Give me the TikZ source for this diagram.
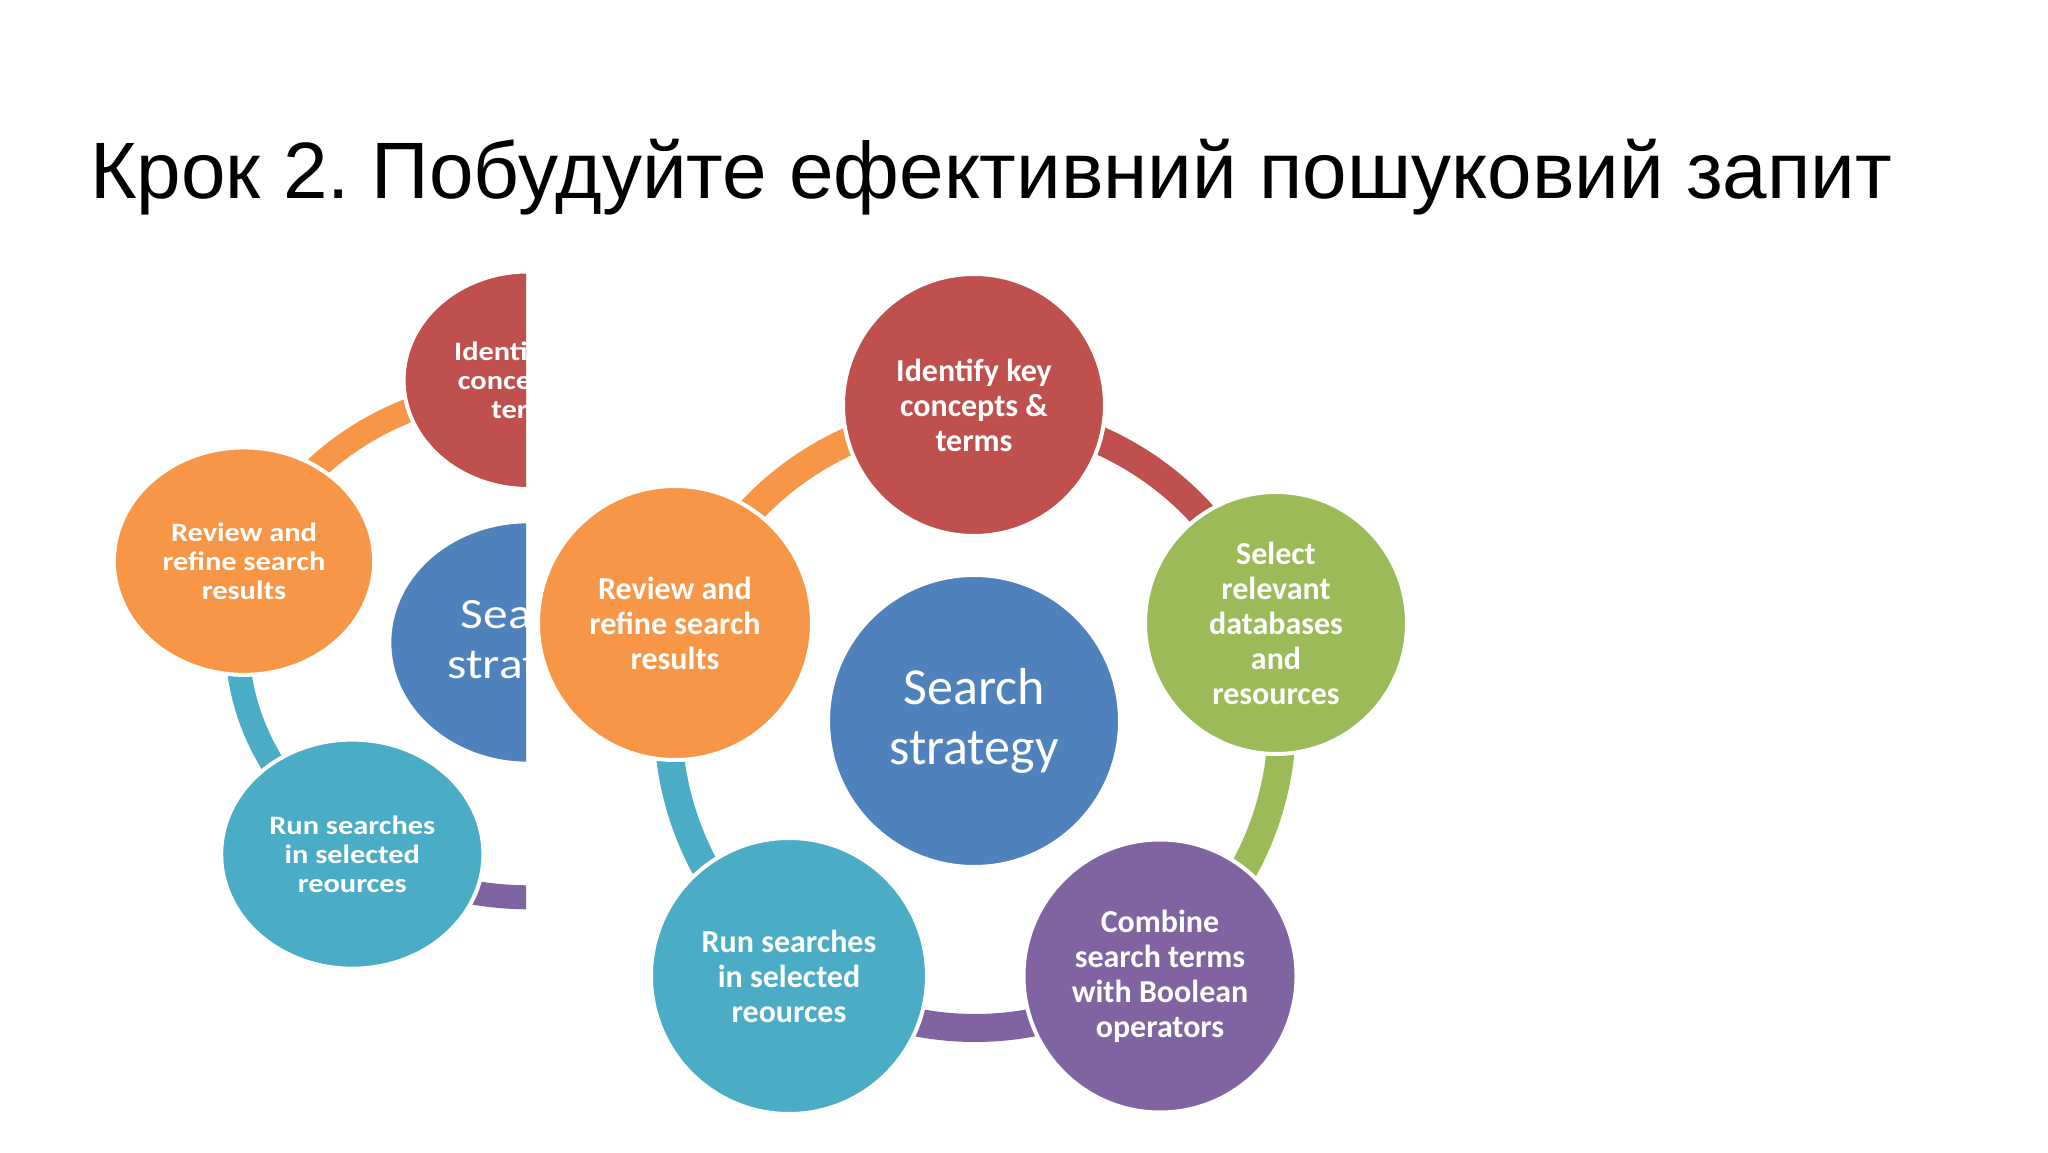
\documentclass[tikz,border=0pt]{standalone}
\usepackage{fontspec}
\setmainfont{Liberation Sans}
\newfontfamily\carlito{Carlito}
\definecolor{cred}{HTML}{C0504D}
\definecolor{cgreen}{HTML}{9BBB59}
\definecolor{cpurple}{HTML}{8064A2}
\definecolor{cteal}{HTML}{4BACC6}
\definecolor{corange}{HTML}{F79646}
\definecolor{cblue}{HTML}{4F81BD}
\newlength\ringw
\frenchspacing
\tikzset{
  bubble/.style={circle, fill=#1, draw=white, line width=4pt, inner sep=0pt, text=white, align=center,
    font=\carlito\bfseries\fontsize{32}{35}\selectfont},
  ringarc/.style={draw=#1, line width=\ringw},
}
\newcommand\searchcycle{%
  \coordinate (rc) at (0,0);
  \draw[ringarc=cred]    (rc) ++(90:307)  arc[start angle=90,  end angle=18,   radius=307];
  \draw[ringarc=cgreen]  (rc) ++(18:307)  arc[start angle=18,  end angle=-54,  radius=307];
  \draw[ringarc=cpurple] (rc) ++(-54:307) arc[start angle=-54, end angle=-126, radius=307];
  \draw[ringarc=cteal]   (rc) ++(-126:307) arc[start angle=-126, end angle=-198, radius=307];
  \draw[ringarc=corange] (rc) ++(162:307) arc[start angle=162, end angle=90,   radius=307];
  \node[bubble=cblue, minimum size=292pt, font=\carlito\fontsize{52}{60}\selectfont] (hub) at (-1,0) {Search\\strategy};
  \node[bubble=cred, minimum size=262pt] (identify) at (-1,316) {Identify key\\concepts \&\\terms};
  \node[bubble=cgreen, minimum size=262pt] (select) at (301,98) {Select\\relevant\\databases\\and\\resources};
  \node[bubble=cpurple, minimum size=273pt] (combine) at (185,-255) {Combine\\search terms\\with Boolean\\operators};
  \node[bubble=cteal, minimum size=276pt] (run) at (-186,-255) {Run searches\\in selected\\reources};
  \node[bubble=corange, minimum size=274pt] (review) at (-300,98) {Review and\\refine search\\results};
}
\begin{document}
\begin{tikzpicture}[x=1pt,y=1pt]
\useasboundingbox (0,0) rectangle (2048,1152);
\fill[white] (0,0) rectangle (2048,1152);
\node[anchor=base west, inner sep=0pt, font=\fontsize{80}{96}\selectfont] (title) at (90,953)
  {Крок 2. Побудуйте ефективний пошуковий запит};
% left, cropped and stretched copy
\begin{scope}
  \clip (0,0) rectangle (526,1152);
  \setlength\ringw{24pt}
  \begin{scope}[shift={(529,509.5)}, xscale=0.95, yscale=0.83, transform shape, name prefix=L-]
    \searchcycle
  \end{scope}
\end{scope}
% right, full copy
\begin{scope}[shift={(975,431)}, name prefix=R-]
  \setlength\ringw{28pt}
  \searchcycle
\end{scope}
\end{tikzpicture}
\end{document}
